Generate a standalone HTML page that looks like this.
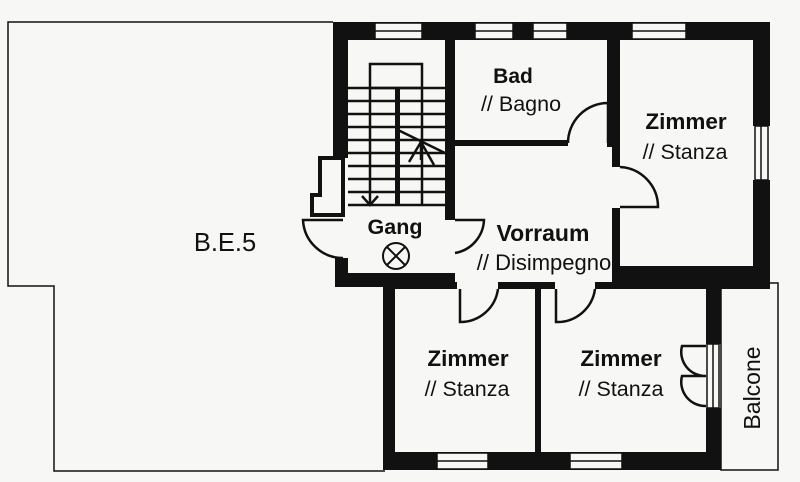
<!DOCTYPE html>
<html><head><meta charset="utf-8"><style>
html,body{margin:0;padding:0;background:#f7f7f5;}
svg{display:block}
text{font-family:"Liberation Sans",sans-serif;fill:#111;}
</style></head><body>
<svg width="800" height="482" viewBox="0 0 800 482" xmlns="http://www.w3.org/2000/svg">
<rect width="800" height="482" fill="#f7f7f5"/>
<polyline points="333,22 8,22 8,286 54,286 54,471 385,471" fill="none" stroke="#111" stroke-width="1.5"/>
<rect x="721" y="283" width="57" height="187" fill="none" stroke="#111" stroke-width="1.5"/>
<g fill="#111">
<rect x="333" y="22" width="437" height="18"/>
<rect x="333" y="22" width="15" height="136"/>
<rect x="335" y="258" width="13" height="29"/>
<rect x="335" y="273" width="120" height="14"/>
<rect x="445" y="40" width="10" height="180"/>
<rect x="454" y="140" width="114" height="6"/>
<rect x="607" y="40" width="5" height="107"/>
<rect x="612" y="40" width="8" height="127"/>
<rect x="612" y="208" width="8" height="70"/>
<rect x="753" y="22" width="17" height="104"/>
<rect x="753" y="180" width="17" height="105"/>
<rect x="612" y="266" width="158" height="16"/>
<rect x="383" y="282" width="74" height="7"/>
<rect x="498" y="282" width="57" height="7"/>
<rect x="595" y="282" width="175" height="7"/>
<rect x="383" y="282" width="12" height="188"/>
<rect x="535" y="282" width="6" height="175"/>
<rect x="706" y="282" width="15" height="62"/>
<rect x="706" y="408" width="15" height="62"/>
<rect x="383" y="452" width="338" height="18"/>
</g>
<g fill="#f7f7f5" stroke="#111" stroke-width="1.5">
<rect x="375" y="23" width="47" height="16"/>
<rect x="475" y="23" width="38" height="16"/>
<rect x="533" y="23" width="34" height="16"/>
<rect x="632" y="23" width="54" height="16"/>
<rect x="755" y="126" width="13" height="54"/>
<rect x="437" y="453" width="51" height="16"/>
<rect x="570" y="453" width="52" height="16"/>
<rect x="707" y="344" width="12" height="64"/>
</g>
<g stroke="#111" stroke-width="1.5">
<line x1="375" y1="31" x2="422" y2="31"/>
<line x1="475" y1="31" x2="513" y2="31"/>
<line x1="533" y1="31" x2="567" y2="31"/>
<line x1="632" y1="31" x2="686" y2="31"/>
<line x1="761" y1="126" x2="761" y2="180"/>
<line x1="437" y1="461" x2="488" y2="461"/>
<line x1="570" y1="461" x2="622" y2="461"/>
<line x1="713" y1="344" x2="713" y2="408"/>
</g>
<polygon points="320,158 343,158 343,215 312,215 312,195 320,195" fill="#f7f7f5" stroke="#111" stroke-width="4"/>
<g stroke="#111" stroke-width="2.5" fill="none">
<rect x="370" y="64" width="52" height="24"/>
<line x1="370" y1="88" x2="370" y2="205"/>
<line x1="422" y1="88" x2="422" y2="205"/>
<line x1="348" y1="88" x2="445" y2="88"/>
<line x1="348" y1="101" x2="445" y2="101"/>
<line x1="348" y1="114" x2="445" y2="114"/>
<line x1="348" y1="127" x2="445" y2="127"/>
<line x1="348" y1="140" x2="445" y2="140"/>
<line x1="348" y1="153" x2="445" y2="153"/>
<line x1="348" y1="166" x2="445" y2="166"/>
<line x1="348" y1="179" x2="445" y2="179"/>
<line x1="348" y1="192" x2="445" y2="192"/>
<line x1="348" y1="205" x2="445" y2="205"/>
<line x1="398" y1="130" x2="445" y2="153"/>
<polyline points="409,162 421,142 434,165"/>
<line x1="421" y1="142" x2="421" y2="160"/>
<polyline points="362,196 370,205 378,196"/>
</g>
<rect x="395" y="89" width="5" height="116" fill="#111"/>
<g stroke="#111" stroke-width="2.5" fill="none">
<path d="M568,143 A40,40 0 0 1 608,103 L608,143"/>
<path d="M620,167 A40,40 0 0 1 658,207 L620,207"/>
<path d="M343,220 L303,220 A40,40 0 0 0 343,258"/>
<path d="M455,220 L484,220 A35,35 0 0 1 455,253"/>
<path d="M460,289 L460,322 A38,38 0 0 0 498,289"/>
<path d="M556,289 L556,322 A38,38 0 0 0 595,289"/>
<path d="M706,346 L682,346 A24,24 0 0 0 706,376 L682,376 A24,24 0 0 0 706,406"/>
</g>
<g stroke="#111" stroke-width="2" fill="none">
<circle cx="396" cy="256" r="13"/>
<line x1="387" y1="247" x2="405" y2="265"/>
<line x1="405" y1="247" x2="387" y2="265"/>
</g>
<g font-weight="bold">
<text x="513" y="83" text-anchor="middle" font-size="21">Bad</text>
<text x="686" y="129" text-anchor="middle" font-size="22.5">Zimmer</text>
<text x="395" y="234" text-anchor="middle" font-size="21.5">Gang</text>
<text x="543" y="241" text-anchor="middle" font-size="23">Vorraum</text>
<text x="468" y="366" text-anchor="middle" font-size="22.5">Zimmer</text>
<text x="621" y="366" text-anchor="middle" font-size="22.5">Zimmer</text>
</g>
<g font-size="21.5">
<text x="521" y="111" text-anchor="middle">// Bagno</text>
<text x="685" y="159" text-anchor="middle">// Stanza</text>
<text x="544" y="270" text-anchor="middle" font-size="22">// Disimpegno</text>
<text x="467" y="396" text-anchor="middle">// Stanza</text>
<text x="621" y="396" text-anchor="middle">// Stanza</text>
<text x="225" y="251" text-anchor="middle" font-size="25.5">B.E.5</text>
<text transform="translate(760,388) rotate(-90)" text-anchor="middle" font-size="23">Balcone</text>
</g>
</svg>
</body></html>
